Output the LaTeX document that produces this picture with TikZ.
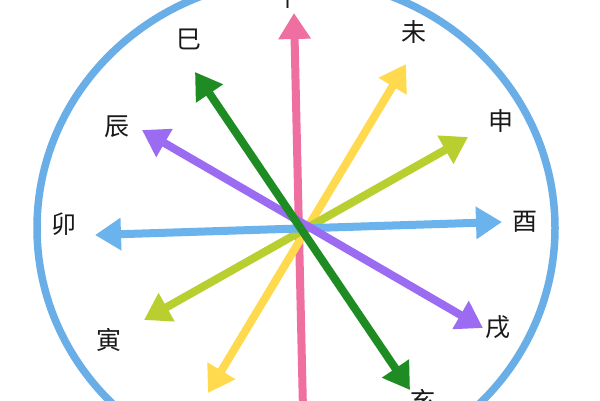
\documentclass[tikz,border=0pt]{standalone}
\usepackage{fontspec}
\newfontfamily\cjk{Noto Sans CJK SC}
\usetikzlibrary{arrows.meta}
\definecolor{ringblue}{HTML}{6AAEE8}
\definecolor{cpink}{HTML}{EE6FA0}
\definecolor{cgreen}{HTML}{1E8C23}
\definecolor{cpurple}{HTML}{9B6BF2}
\definecolor{cblue}{HTML}{6BB3EC}
\definecolor{cyg}{HTML}{B8CF2F}
\definecolor{cyellow}{HTML}{FFD94E}
\begin{document}
\begin{tikzpicture}[x=1pt,y=-1pt,
  tip/.tip={Triangle[length=26pt,width=31pt]},
  ray/.style={line width=8pt,tip-tip},
  rayone/.style={line width=8pt,-tip},
  lbl/.style={font=\cjk\fontsize{25}{25}\selectfont,text=black!90,inner sep=0pt}]
\useasboundingbox (0,0) rectangle (600,400);
\clip (0,0) rectangle (600,400);
\fill[white] (0,0) rectangle (600,400);
% ring
\draw[ringblue,line width=7.5pt] (296,228) ellipse [x radius=259pt, y radius=249pt];
% end points
\coordinate (wu) at (294,13);
\coordinate (zi) at (303,410);
\coordinate (si) at (195,72);
\coordinate (hai) at (410,390);
\coordinate (chen) at (142,130);
\coordinate (xu) at (483,328);
\coordinate (mao) at (95,235);
\coordinate (you) at (502,222);
\coordinate (shen) at (468,137);
\coordinate (yin) at (144,320);
\coordinate (wei) at (406,64);
\coordinate (chou) at (208,393);
% arrows
\draw[rayone,cpink] (zi) -- (wu);
\draw[ray,cyellow] (chou) -- (wei);
\draw[ray,cyg] (yin) -- (shen);
\draw[ray,cblue] (mao) -- (you);
\draw[ray,cpurple] (chen) -- (xu);
\draw[ray,cgreen] (si) -- (hai);
% labels
\node[lbl] (lwu) at (288,-3) {午};
\node[lbl] (lsi) at (189,39) {巳};
\node[lbl] (lwei) at (414,32) {未};
\node[lbl] (lchen) at (117,127) {辰};
\node[lbl] (lshen) at (501,121) {申};
\node[lbl] (lmao) at (64,224) {卯};
\node[lbl] (lyou) at (525,222) {酉};
\node[lbl] (lyin) at (109,340) {寅};
\node[lbl] (lxu) at (498,327) {戌};
\node[lbl] (lhai) at (423,401) {亥};
\end{tikzpicture}
\end{document}
